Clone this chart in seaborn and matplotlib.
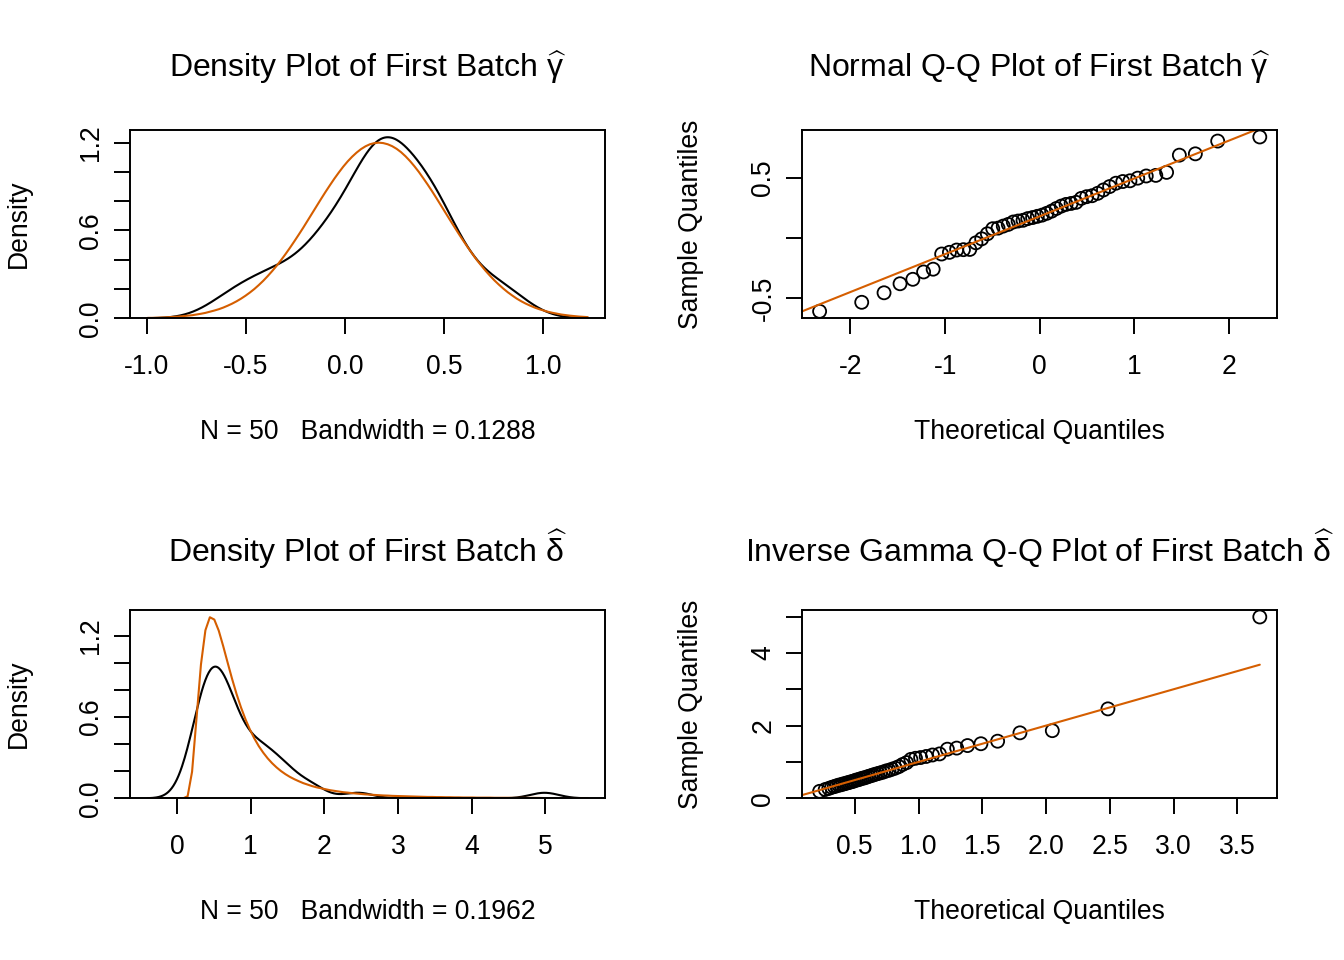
import numpy as np
import matplotlib
matplotlib.use("Agg")
import matplotlib.pyplot as plt
import seaborn as sns

# ---------------- data ----------------
# first-batch gamma hat (sorted sample quantiles of the normal Q-Q plot)
gamma_hat = [-0.609, -0.534, -0.455, -0.38, -0.343, -0.282, -0.259, -0.133, -0.119, -0.10,
             -0.097, -0.095, -0.04, -0.007, 0.035, 0.077, 0.082, 0.099, 0.113, 0.133,
             0.141, 0.147, 0.161, 0.17, 0.18, 0.19, 0.205, 0.223, 0.245, 0.265,
             0.279, 0.287, 0.296, 0.329, 0.343, 0.351, 0.371, 0.399, 0.427, 0.455,
             0.469, 0.475, 0.497, 0.515, 0.52, 0.545, 0.688, 0.699, 0.805, 0.839]
# theoretical normal quantiles (positive half; the negative half mirrors it)
norm_quant_pos = [0.025, 0.075, 0.126, 0.176, 0.228, 0.279, 0.332, 0.385, 0.440, 0.496,
                  0.553, 0.613, 0.674, 0.739, 0.806, 0.878, 0.954, 1.036, 1.126, 1.227,
                  1.341, 1.476, 1.645, 1.881, 2.326]
# prior normal density (orange curve, top-left), 100 points over the KDE range
norm_pdf = [0.003, 0.003, 0.004, 0.005, 0.006, 0.008, 0.010, 0.012, 0.015, 0.018, 0.021, 0.026,
            0.031, 0.037, 0.045, 0.053, 0.062, 0.073, 0.086, 0.100, 0.116, 0.134, 0.154, 0.176,
            0.200, 0.227, 0.256, 0.288, 0.322, 0.358, 0.397, 0.438, 0.481, 0.526, 0.572, 0.619,
            0.668, 0.717, 0.766, 0.815, 0.863, 0.909, 0.954, 0.996, 1.036, 1.072, 1.104, 1.132,
            1.156, 1.175, 1.189, 1.197, 1.200, 1.197, 1.189, 1.176, 1.158, 1.135, 1.107, 1.075,
            1.039, 1.000, 0.957, 0.913, 0.867, 0.819, 0.770, 0.721, 0.672, 0.624, 0.576, 0.530,
            0.485, 0.442, 0.400, 0.362, 0.325, 0.291, 0.259, 0.230, 0.203, 0.178, 0.156, 0.135,
            0.117, 0.101, 0.087, 0.074, 0.063, 0.054, 0.045, 0.038, 0.032, 0.026, 0.022, 0.018,
            0.015, 0.012, 0.010, 0.008]
# first-batch delta hat (sorted sample quantiles of the inverse gamma Q-Q plot)
delta_hat = [0.19, 0.24, 0.27, 0.30, 0.32, 0.34, 0.36, 0.37, 0.39, 0.40,
             0.42, 0.43, 0.45, 0.46, 0.48, 0.50, 0.51, 0.53, 0.55, 0.56,
             0.58, 0.60, 0.62, 0.64, 0.66, 0.68, 0.70, 0.72, 0.75, 0.77,
             0.80, 0.83, 0.87, 0.93, 0.98, 1.07, 1.10, 1.12, 1.15, 1.19,
             1.22, 1.35, 1.38, 1.45, 1.50, 1.57, 1.80, 1.86, 2.46, 4.99]
# theoretical inverse gamma quantiles
invgam_quant = [0.224, 0.268, 0.296, 0.319, 0.339, 0.357, 0.374, 0.391, 0.406, 0.422,
                0.437, 0.452, 0.467, 0.482, 0.497, 0.512, 0.527, 0.543, 0.559, 0.575,
                0.591, 0.608, 0.626, 0.644, 0.662, 0.682, 0.702, 0.723, 0.745, 0.768,
                0.792, 0.818, 0.845, 0.875, 0.906, 0.940, 0.976, 1.016, 1.060, 1.109,
                1.164, 1.226, 1.299, 1.384, 1.489, 1.620, 1.795, 2.049, 2.485, 3.676]
# prior inverse gamma density (orange curve, bottom-left), 100 points over the KDE range
invgam_pdf = [0.000, 0.000, 0.000, 0.000, 0.000, 0.000, 0.000, 0.000, 0.000, 0.015,
              0.196, 0.591, 0.988, 1.240, 1.336, 1.319, 1.237, 1.123, 1.001, 0.881,
              0.770, 0.671, 0.584, 0.508, 0.442, 0.385, 0.337, 0.295, 0.259, 0.228,
              0.201, 0.178, 0.158, 0.141, 0.126, 0.112, 0.101, 0.090, 0.081, 0.074,
              0.067, 0.060, 0.055, 0.050, 0.045, 0.042, 0.038, 0.035, 0.032, 0.029,
              0.027, 0.025, 0.023, 0.021, 0.020, 0.018, 0.017, 0.016, 0.015, 0.014,
              0.013, 0.012, 0.011, 0.010, 0.010, 0.009, 0.009, 0.008, 0.008, 0.007,
              0.007, 0.006, 0.006, 0.006, 0.005, 0.005, 0.005, 0.005, 0.004, 0.004,
              0.004, 0.004, 0.003, 0.003, 0.003, 0.003, 0.003, 0.003, 0.003, 0.002,
              0.002, 0.002, 0.002, 0.002, 0.002, 0.002, 0.002, 0.002, 0.002, 0.002]
bw_gamma = 0.1288
bw_delta = 0.1962
n_obs = 50

# ---------------- style ----------------
sns.set_theme(style="white")
plt.rcParams["font.family"] = ["Liberation Sans", "DejaVu Sans"]
plt.rcParams["mathtext.fontset"] = "custom"
plt.rcParams["mathtext.rm"] = "Liberation Sans"
plt.rcParams["mathtext.it"] = "Liberation Sans"
plt.rcParams["mathtext.bf"] = "Liberation Sans:bold"
for k in ["text.color", "axes.labelcolor", "xtick.color", "ytick.color", "axes.edgecolor"]:
    plt.rcParams[k] = "black"

ORANGE = "#D55E00"
LAB = 19.1
TIT = 23.0
LW = 1.5

fig = plt.figure(figsize=(13.44, 9.6), dpi=100)
W, H = 1344, 960


def add_ax(l, t):
    return fig.add_axes([l / W, 1 - (t + 188.3) / H, 475.4 / W, 188.3 / H])


ax_tl = add_ax(130, 130)
ax_tr = add_ax(802, 130)
ax_bl = add_ax(130, 610)
ax_br = add_ax(802, 610)


def style_ax(ax, xt, xl, yt, yl, title, xlabel, ylabel, tpad):
    for s in ax.spines.values():
        s.set_visible(True)
        s.set_color("black")
        s.set_linewidth(1.4)
    ax.set_xticks(xt)
    ax.set_xticklabels(xl)
    ax.set_yticks(yt)
    ax.set_yticklabels(yl, rotation=90, va="center")
    ax.tick_params(axis="x", which="both", bottom=True, top=False, direction="out",
                   length=11.4, width=1.4, pad=14.5, labelsize=LAB, colors="black")
    ax.tick_params(axis="y", which="both", left=True, right=False, direction="out",
                   length=11.4, width=1.4, pad=7, labelsize=LAB, colors="black")
    ax.set_title(title, fontsize=TIT, pad=tpad, color="black")
    ax.set_xlabel(xlabel, fontsize=LAB, va="top", color="black")
    ax.set_ylabel(ylabel, fontsize=LAB, color="black")
    ax.xaxis.set_label_coords(0.5, -0.535)
    ax.yaxis.set_label_coords(-0.206, 0.5)
    ax.grid(False)


def open_circles(ax):
    coll = ax.collections[-1]
    coll.set_facecolor("none")
    coll.set_edgecolor("black")
    coll.set_linewidth(1.3)


# ---- top-left: density of gamma hat ----
g = np.array(gamma_hat)
sns.kdeplot(x=g, ax=ax_tl, bw_method=bw_gamma / g.std(ddof=1), cut=3, gridsize=512,
            color="black", linewidth=LW)
xg = np.linspace(g.min() - 3 * bw_gamma, g.max() + 3 * bw_gamma, len(norm_pdf))
sns.lineplot(x=xg, y=norm_pdf, ax=ax_tl, color=ORANGE, linewidth=LW)
ax_tl.margins(x=0.04, y=0.04)
ax_tl.axhline(0, color="#BEBEBE", linewidth=1.0, zorder=0)
style_ax(ax_tl, [-1.0, -0.5, 0.0, 0.5, 1.0], ["-1.0", "-0.5", "0.0", "0.5", "1.0"],
         [0, 0.2, 0.4, 0.6, 0.8, 1.0, 1.2], ["0.0", "", "", "0.6", "", "", "1.2"],
         r"Density Plot of First Batch $\widehat{\mathrm{\gamma}}$",
         f"N = {n_obs}   Bandwidth = {bw_gamma}", "Density", 37.8)

# ---- top-right: normal QQ ----
nq = [-v for v in norm_quant_pos[::-1]] + norm_quant_pos
gs = np.sort(g)
sns.scatterplot(x=nq, y=gs, ax=ax_tr, s=88, marker="o")
open_circles(ax_tr)
ax_tr.margins(x=0.04, y=0.04)
q1, q3 = np.percentile(gs, [25, 75])
zq = norm_quant_pos[12]
slope = (q3 - q1) / (2 * zq)
ax_tr.axline((0, q1 + zq * slope), slope=slope, color=ORANGE, linewidth=LW)
style_ax(ax_tr, [-2, -1, 0, 1, 2], ["-2", "-1", "0", "1", "2"],
         [-0.5, 0.0, 0.5], ["-0.5", "", "0.5"],
         r"Normal Q-Q Plot of First Batch $\widehat{\mathrm{\gamma}}$",
         "Theoretical Quantiles", "Sample Quantiles", 37.8)

# ---- bottom-left: density of delta hat ----
d = np.array(delta_hat)
sns.kdeplot(x=d, ax=ax_bl, bw_method=bw_delta / d.std(ddof=1), cut=3, gridsize=512,
            color="black", linewidth=LW)
xd = np.linspace(d.min() - 3 * bw_delta, d.max() + 3 * bw_delta, len(invgam_pdf))
sns.lineplot(x=xd, y=invgam_pdf, ax=ax_bl, color=ORANGE, linewidth=LW)
ax_bl.margins(x=0.04, y=0.04)
ax_bl.axhline(0, color="#BEBEBE", linewidth=1.0, zorder=0)
style_ax(ax_bl, [0, 1, 2, 3, 4, 5], ["0", "1", "2", "3", "4", "5"],
         [0, 0.2, 0.4, 0.6, 0.8, 1.0, 1.2], ["0.0", "", "", "0.6", "", "", "1.2"],
         r"Density Plot of First Batch $\widehat{\mathrm{\delta}}$",
         f"N = {n_obs}   Bandwidth = {bw_delta}", "Density", 34.5)

# ---- bottom-right: inverse gamma QQ ----
iq = np.array(invgam_quant)
sns.scatterplot(x=iq, y=np.sort(d), ax=ax_br, s=88, marker="o")
open_circles(ax_br)
ax_br.margins(x=0.04, y=0.04)
xl = ax_br.get_xlim()
yl = ax_br.get_ylim()
ax_br.plot([0, iq.max()], [0, iq.max()], color=ORANGE, linewidth=LW)
ax_br.set_xlim(xl)
ax_br.set_ylim(yl)
style_ax(ax_br, [0.5, 1.0, 1.5, 2.0, 2.5, 3.0, 3.5],
         ["0.5", "1.0", "1.5", "2.0", "2.5", "3.0", "3.5"],
         [0, 1, 2, 3, 4, 5], ["0", "", "2", "", "4", ""],
         r"Inverse Gamma Q-Q Plot of First Batch $\widehat{\mathrm{\delta}}$",
         "Theoretical Quantiles", "Sample Quantiles", 34.5)

fig.savefig("out.png", dpi=100)
